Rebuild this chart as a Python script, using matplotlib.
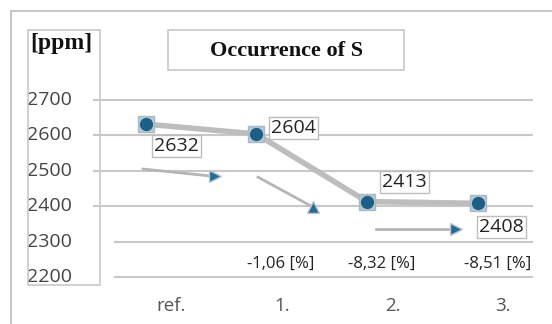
import matplotlib.pyplot as plt
from matplotlib.patches import Rectangle

# Sulphur content per sample, ppm
categories = ['ref.', '1.', '2.', '3.']
values = [2632, 2604, 2413, 2408]
change_labels = ['-1,06 [%]', '-8,32 [%]', '-8,51 [%]']
yticks = [2200, 2300, 2400, 2500, 2600, 2700]

W, H, DPI = 552, 324, 100
fig = plt.figure(figsize=(W / DPI, H / DPI), dpi=DPI)
fig.patch.set_facecolor('white')


def px_box(x0, y0, x1, y1, **kw):
    # rectangle given in pixel coords measured from the top-left corner
    r = Rectangle((x0 / W, 1 - y1 / H), (x1 - x0) / W, (y1 - y0) / H,
                  transform=fig.transFigure, fill=False, clip_on=False, **kw)
    fig.add_artist(r)


# outer frame, y-axis frame and title frame
px_box(11, 11, 600, 400, edgecolor='#c8c8c8', lw=1.5)
px_box(28, 30, 100, 285, edgecolor='#c8c8c8', lw=1.2)
px_box(168, 30, 404, 70, edgecolor='#c8c8c8', lw=1.2)

fig.text(287 / W, 1 - 51 / H, 'Occurrence of S', family='Liberation Serif',
         weight='bold', fontsize=16, ha='center', va='center', color='#111111')
fig.text(30 / W, 1 - 44 / H, '[ppm]', family='Liberation Serif',
         weight='bold', fontsize=17, ha='left', va='center', color='#111111')

ax = fig.add_axes([93 / W, 0.0904, 440 / W, 0.6556])
ax.set_xlim(-0.705, 3.27)
ax.set_ylim(2150, 2750)
ax.axis('off')

# horizontal gridlines; the two lowest ones start a bit further right
for v in yticks:
    x0 = -0.705 if v >= 2400 else -0.506
    ax.plot([x0, 3.27], [v, v], color='#c8c8c8', lw=1.5, zorder=1)
    ax.text(-0.705 - 0.19, v, str(v), ha='right', va='center',
            family='Open Sans', fontsize=14, color='#444444')

for i, c in enumerate(categories):
    ax.text(i, 2118, c, ha='center', va='center', family='Open Sans',
            fontsize=13.5, color='#555555')

# points sit slightly left of their category label
xs = [i - 0.23 for i in range(len(values))]
ax.plot(xs, values, color='#bdbdbd', lw=4, zorder=2, solid_capstyle='butt')
ax.plot(xs, values, 's', ms=11, mfc='#b9c8d2', mec='#a9b9c4', zorder=3)
ax.plot(xs, values, 'o', ms=8.5, mfc='#1c5e85', mec='#1c5e85', zorder=4)

# value labels in small boxes
offsets = [(22, -16), (27, 4), (27, 14), (17, -17)]
for x, v, off in zip(xs, values, offsets):
    ax.annotate(str(v), (x, v), xytext=off, textcoords='offset points',
                ha='center', va='center', family='Open Sans', fontsize=14,
                color='#222222', zorder=5,
                bbox=dict(boxstyle='square,pad=0.1', fc='white',
                          ec='#bdbdbd', lw=1.0))

# percentage change relative to reference
change_x = [0.99, 1.90, 2.95]
for x, t in zip(change_x, change_labels):
    ax.text(x, 2237, t, ha='center', va='center', family='Open Sans',
            fontsize=12, color='#222222')

# trend arrows: grey shaft with blue head
arrows = [((-0.253, 2505), (0.40, 2484), '>'),
          ((0.786, 2482), (1.28, 2398), '^'),
          ((1.85, 2336), (2.57, 2336), '>')]
for (x0, y0), (x1, y1), head in arrows:
    ax.plot([x0, x1], [y0, y1], color='#b5b5b5', lw=2, zorder=2)
    ax.plot([x1], [y1], head, ms=9, mfc='#2a6a8e', mec='#b9c8d2',
            mew=1, zorder=3)

fig.savefig('out.png', dpi=DPI)
